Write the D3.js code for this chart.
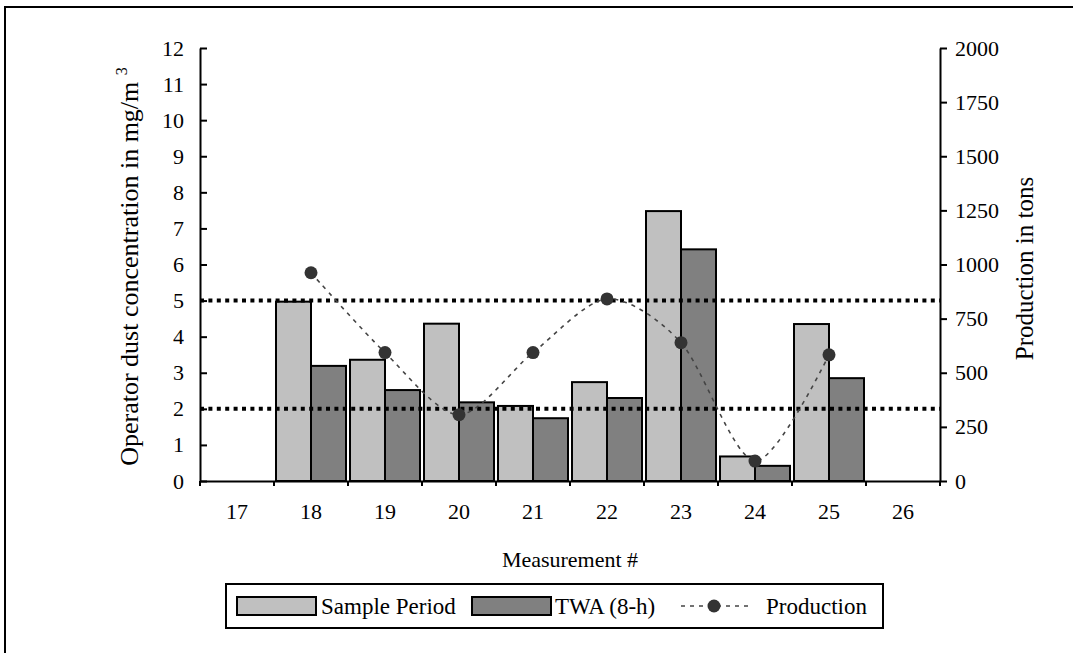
<!DOCTYPE html>
<html>
<head>
<meta charset="utf-8">
<script src="https://cdn.jsdelivr.net/npm/d3@7"></script>
<style>
  body { margin: 0; background: #fff; }
  svg text { font-family: "Liberation Serif", "Times New Roman", serif; fill: #000; }
</style>
</head>
<body>
<div id="chart-area"></div>
<script>
const categories = ["17","18","19","20","21","22","23","24","25","26"];
const samplePeriod = [null, 4.97, 3.36, 4.36, 2.08, 2.74, 7.48, 0.68, 4.35, null];
const twa = [null, 3.19, 2.52, 2.18, 1.74, 2.30, 6.42, 0.42, 2.85, null];
const production = [null, 962, 593, 306, 593, 841, 639, 92, 583, null];
const limits = [5, 2];
const leftTicks = d3.range(0, 13, 1);
const rightTicks = [0, 250, 500, 750, 1000, 1250, 1500, 1750, 2000];

const W = 1073, H = 653;
const margin = {top:48, left:200};
const width = 740, height = 433;
const fs = 22;

const svg = d3.select("#chart-area").append("svg")
    .attr("width", W)
    .attr("height", H);

// outer frame
svg.append("rect")
    .attr("x", 5).attr("y", 7)
    .attr("width", 1200).attr("height", 800)
    .attr("fill", "none").attr("stroke", "#000").attr("stroke-width", 2);

const g = svg.append("g")
    .attr("transform", "translate(" + margin.left + "," + margin.top + ")");

const x = d3.scaleBand().domain(categories).range([0, width]);
const xs = d3.scaleBand().domain(["sample","twa"]).range([2, x.bandwidth() - 2]);
const y = d3.scaleLinear().domain([0, 12]).range([height, 0]);
const y2 = d3.scaleLinear().domain([0, 2000]).range([height, 0]);

// bars
const rows = categories.map((c, i) => ({cat: c, sample: samplePeriod[i], twa: twa[i]}));
const bars = g.append("g");
[["sample", "#C0C0C0"], ["twa", "#808080"]].forEach(([key, col]) => {
  bars.selectAll("rect." + key)
    .data(rows.filter(d => d[key] != null))
    .enter().append("rect")
      .attr("class", key)
      .attr("x", d => x(d.cat) + xs(key))
      .attr("width", xs.bandwidth())
      .attr("y", d => y(d[key]))
      .attr("height", d => height - y(d[key]))
      .attr("fill", col)
      .attr("stroke", "#000")
      .attr("stroke-width", 2);
});

// limit lines
g.selectAll("line.limit")
  .data(limits)
  .enter().append("line")
    .attr("class", "limit")
    .attr("x1", 0).attr("x2", width)
    .attr("y1", d => y(d)).attr("y2", d => y(d))
    .attr("stroke", "#000")
    .attr("stroke-width", 4)
    .attr("stroke-dasharray", "4,4.4");

// production line
const pts = categories.map((c, i) => ({cat: c, v: production[i]})).filter(d => d.v != null);
const line = d3.line()
    .x(d => x(d.cat) + x.bandwidth() / 2)
    .y(d => y2(d.v))
    .curve(d3.curveCardinal.tension(0.15));
g.append("path")
    .datum(pts)
    .attr("d", line)
    .attr("fill", "none")
    .attr("stroke", "#444")
    .attr("stroke-width", 1.6)
    .attr("stroke-dasharray", "4,5");
g.selectAll("circle.prod")
  .data(pts)
  .enter().append("circle")
    .attr("class", "prod")
    .attr("cx", d => x(d.cat) + x.bandwidth() / 2)
    .attr("cy", d => y2(d.v))
    .attr("r", 6.5)
    .attr("fill", "#333");

// axes
const xAxis = g.append("g")
    .attr("transform", "translate(0," + height + ")")
    .call(d3.axisBottom(x).tickSize(0).tickPadding(22));
// boundary ticks on x axis
xAxis.selectAll("line.bound")
  .data(d3.range(categories.length + 1))
  .enter().append("line")
    .attr("class", "bound")
    .attr("x1", i => i * x.step()).attr("x2", i => i * x.step())
    .attr("y1", 0).attr("y2", 5)
    .attr("stroke", "#000").attr("stroke-width", 2);

const yAxis = g.append("g")
    .call(d3.axisLeft(y).tickValues(leftTicks).tickSize(-7).tickSizeOuter(0).tickPadding(16));

const yAxis2 = g.append("g")
    .attr("transform", "translate(" + width + ",0)")
    .call(d3.axisRight(y2).tickValues(rightTicks).tickFormat(d3.format("d"))
      .tickSize(7).tickSizeOuter(0).tickPadding(8));

[xAxis, yAxis, yAxis2].forEach(a => {
  a.attr("font-family", null).attr("font-size", null);
  a.select(".domain").attr("stroke-width", 2);
  a.selectAll(".tick line").attr("stroke-width", 2);
  a.selectAll("text").style("font-size", fs + "px");
});

// axis titles
g.append("text")
    .attr("x", width / 2).attr("y", 86 + height)
    .attr("text-anchor", "middle")
    .style("font-size", fs + "px")
    .text("Measurement #");

const lt = g.append("text")
    .attr("transform", "translate(-62," + (height / 2 + 2) + ") rotate(-90)")
    .attr("text-anchor", "middle")
    .style("font-size", "26px");
lt.append("tspan").text("Operator dust concentration in mg/m ");
lt.append("tspan").attr("dy", -11).style("font-size", "16px").text("3");

g.append("text")
    .attr("transform", "translate(" + (width + 93) + "," + (height / 2 + 4) + ") rotate(-90)")
    .attr("text-anchor", "middle")
    .style("font-size", "25px")
    .text("Production in tons");

// legend
const ly = 584;
const legend = svg.append("g").attr("class", "key");
legend.append("rect")
    .attr("x", 226).attr("y", ly).attr("width", 657).attr("height", 44)
    .attr("fill", "#fff").attr("stroke", "#000").attr("stroke-width", 2);
const lgItems = [
  {label: "Sample Period", fill: "#C0C0C0", x: 237, tx: 321},
  {label: "TWA (8-h)", fill: "#808080", x: 472, tx: 555}
];
lgItems.forEach(d => {
  legend.append("rect")
      .attr("x", d.x).attr("y", ly + 13).attr("width", 79).attr("height", 18)
      .attr("fill", d.fill).attr("stroke", "#000").attr("stroke-width", 2);
  legend.append("text")
      .attr("x", d.tx).attr("y", ly + 30)
      .style("font-size", "23px")
      .text(d.label);
});
legend.append("line")
    .attr("x1", 681).attr("x2", 751).attr("y1", ly + 22).attr("y2", ly + 22)
    .attr("stroke", "#444").attr("stroke-width", 1.6).attr("stroke-dasharray", "4,5");
legend.append("circle")
    .attr("cx", 714).attr("cy", ly + 22).attr("r", 6.5).attr("fill", "#333");
legend.append("text")
    .attr("x", 766).attr("y", ly + 30)
    .style("font-size", "23px")
    .text("Production");
</script>
</body>
</html>
